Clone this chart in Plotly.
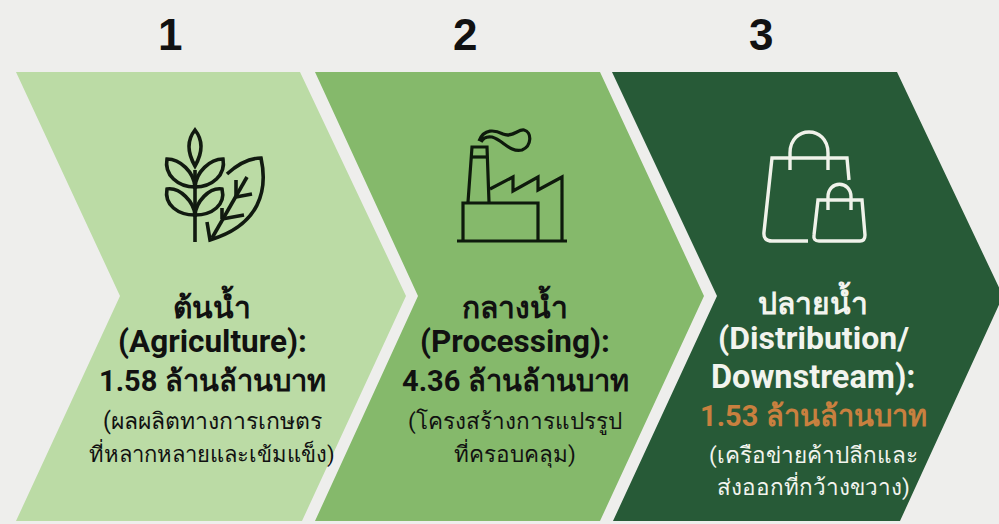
import plotly.graph_objects as go

W, H = 999, 524
step_numbers = ["1", "2", "3"]
number_x = [170, 465, 761]
fills = ["#BBDBA5", "#85B96B", "#275A37"]
chevrons = [
    [(16, 72), (300, 72), (406, 296), (302, 521), (16, 521), (120, 296)],
    [(315, 72), (600, 72), (704, 296), (600, 521), (315, 521), (418, 296)],
    [(612, 72), (897, 72), (1003, 296), (900, 521), (613, 521), (717, 296)],
]
column_x = [212, 515, 813]
text_dark = "#111111"
text_light = "#F2F4EE"
accent = "#C9803F"
lines = [
    [("ต้นน้ำ", 305, 30, True, text_dark), ("(Agriculture):", 341, 31.5, True, text_dark),
     ("1.58 ล้านล้านบาท", 381, 29, True, text_dark), ("(ผลผลิตทางการเกษตร", 421, 23, False, text_dark),
     ("ที่หลากหลายและเข้มแข็ง)", 453, 22, False, text_dark)],
    [("กลางน้ำ", 305, 30, True, text_dark), ("(Processing):", 341, 31.5, True, text_dark),
     ("4.36 ล้านล้านบาท", 381, 29, True, text_dark), ("(โครงสร้างการแปรรูป", 421, 22.5, False, text_dark),
     ("ที่ครอบคลุม)", 453, 22.5, False, text_dark)],
    [("ปลายน้ำ", 301, 30, True, text_light), ("(Distribution/", 338, 32, True, text_light),
     ("Downstream):", 377, 32.5, True, text_light), ("1.53 ล้านล้านบาท", 416, 29, True, accent),
     ("(เครือข่ายค้าปลีกและ", 455, 22.5, False, text_light), ("ส่งออกที่กว้างขวาง)", 486, 22.5, False, text_light)],
]

wheat = [
    "M195,242 L195,170",
    "M195,130 Q183,145 195,166 Q207,145 195,130 Z",
    "M167,159 C180,159 194,172 195,187 C178,187 164,175 167,159 Z",
    "M223,159 C210,159 196,172 195,187 C212,187 226,175 223,159 Z",
    "M167,189 C180,187 194,202 195,215 C178,215 164,205 167,189 Z",
    "M222,189 C209,187 196,202 195,215 C212,215 226,205 222,189 Z",
    "M227,174 C238,164 250,158 261,158 C268,190 260,225 210,240 L207,222",
    "M212,238 L247,177",
    "M236,197 L236,180", "M236,197 L252,194",
    "M222,219 L222,208", "M222,219 L244,215",
]
factory = [
    "M457,241 L567,241",
    "M463,241 L463,203 L538,203 L538,241",
    "M468,202 L472,147 L487,147 L489,202",
    "M472,157 L487,157",
    "M490,189 L513,177 L513,191 L538,177 L538,190 L562,177 L562,241",
    "M472,212 h9 v9 h-9 Z", "M488,212 h9 v9 h-9 Z", "M504,212 h9 v9 h-9 Z", "M521,212 h9 v9 h-9 Z",
    "M479,141 C484,128 495,130 503,134 C512,138 518,129 524,130 C532,132 532,146 522,150 C510,153 503,140 492,137 C486,136 483,138 481,142",
]
bags = [
    "M808,241 L772,241 Q763,241 764,232 L772,158 L847,158 L849,180",
    "M790,170 L790,153 C790,125 828,125 828,153 L828,170",
    "M786,173 a4,4 0 1,0 8,0 a4,4 0 1,0 -8,0",
    "M824,173 a4,4 0 1,0 8,0 a4,4 0 1,0 -8,0",
    "M818,200 L862,200 L865,235 Q865,241 860,241 L819,241 Q813,241 814,235 Z",
    "M828,210 L828,197 C828,180 851,180 851,197 L851,210",
]
icons = [(wheat, "#111A10", 3.6), (factory, "#0E1A0C", 3.2), (bags, "#F0F2EA", 3.4)]


def polygon(points):
    return "M" + " L".join(f"{x},{y}" for x, y in points) + " Z"


fig = go.Figure()
shapes = []
for pts, color in zip(chevrons, fills):
    shapes.append(dict(type="path", path=polygon(pts), fillcolor=color, line_width=0, layer="below"))
for paths, color, width in icons:
    for p in paths:
        shapes.append(dict(type="path", path=p, line=dict(color=color, width=width), fillcolor="rgba(0,0,0,0)"))

annotations = []
for num, x in zip(step_numbers, number_x):
    annotations.append(dict(x=x, y=34, text=f"<b>{num}</b>", showarrow=False, xanchor="center", yanchor="middle",
                            font=dict(size=44, color="#111111", family="Liberation Sans")))
for cx, col in zip(column_x, lines):
    for txt, y, size, bold, color in col:
        annotations.append(dict(x=cx, y=y, text=f"<b>{txt}</b>" if bold else txt, showarrow=False,
                                xanchor="center", yanchor="middle",
                                font=dict(size=size, color=color, family="Roboto, Noto Sans, sans-serif")))

fig.update_layout(
    width=W, height=H, margin=dict(l=0, r=0, t=0, b=0),
    paper_bgcolor="#EEEEEC", plot_bgcolor="#EEEEEC", showlegend=False,
    xaxis=dict(range=[0, W], visible=False, fixedrange=True),
    yaxis=dict(range=[H, 0], visible=False, fixedrange=True),
    shapes=shapes, annotations=annotations,
)
fig.write_html("out.html", config={"displayModeBar": False},
               post_script="document.body.style.margin='0';document.body.style.overflow='hidden';document.body.style.background='#EEEEEC';")
